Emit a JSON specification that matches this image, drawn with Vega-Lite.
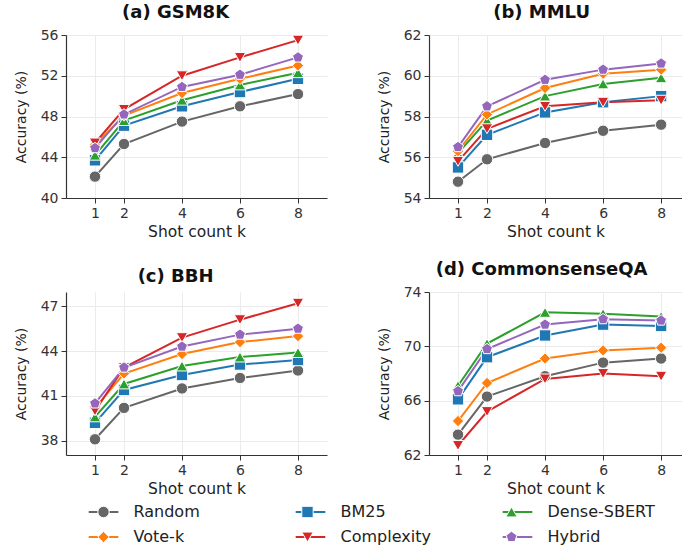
{
  "$schema": "https://vega.github.io/schema/vega-lite/v6.json",
  "padding": {"left": 14, "top": 4, "right": 0, "bottom": 0},
  "datasets": {
    "all": [
      {"d":"GSM8K","m":"Random","k":1,"v":42.1},{"d":"GSM8K","m":"Random","k":2,"v":45.3},{"d":"GSM8K","m":"Random","k":4,"v":47.5},{"d":"GSM8K","m":"Random","k":6,"v":49.0},{"d":"GSM8K","m":"Random","k":8,"v":50.2},
      {"d":"GSM8K","m":"BM25","k":1,"v":43.7},{"d":"GSM8K","m":"BM25","k":2,"v":47.1},{"d":"GSM8K","m":"BM25","k":4,"v":49.0},{"d":"GSM8K","m":"BM25","k":6,"v":50.4},{"d":"GSM8K","m":"BM25","k":8,"v":51.7},
      {"d":"GSM8K","m":"Dense-SBERT","k":1,"v":44.2},{"d":"GSM8K","m":"Dense-SBERT","k":2,"v":47.6},{"d":"GSM8K","m":"Dense-SBERT","k":4,"v":49.6},{"d":"GSM8K","m":"Dense-SBERT","k":6,"v":51.1},{"d":"GSM8K","m":"Dense-SBERT","k":8,"v":52.3},
      {"d":"GSM8K","m":"Vote-k","k":1,"v":45.2},{"d":"GSM8K","m":"Vote-k","k":2,"v":48.1},{"d":"GSM8K","m":"Vote-k","k":4,"v":50.3},{"d":"GSM8K","m":"Vote-k","k":6,"v":51.7},{"d":"GSM8K","m":"Vote-k","k":8,"v":53.0},
      {"d":"GSM8K","m":"Complexity","k":1,"v":45.4},{"d":"GSM8K","m":"Complexity","k":2,"v":48.7},{"d":"GSM8K","m":"Complexity","k":4,"v":52.0},{"d":"GSM8K","m":"Complexity","k":6,"v":53.8},{"d":"GSM8K","m":"Complexity","k":8,"v":55.5},
      {"d":"GSM8K","m":"Hybrid","k":1,"v":44.9},{"d":"GSM8K","m":"Hybrid","k":2,"v":48.2},{"d":"GSM8K","m":"Hybrid","k":4,"v":50.9},{"d":"GSM8K","m":"Hybrid","k":6,"v":52.1},{"d":"GSM8K","m":"Hybrid","k":8,"v":53.8},

      {"d":"MMLU","m":"Random","k":1,"v":54.8},{"d":"MMLU","m":"Random","k":2,"v":55.9},{"d":"MMLU","m":"Random","k":4,"v":56.7},{"d":"MMLU","m":"Random","k":6,"v":57.3},{"d":"MMLU","m":"Random","k":8,"v":57.6},
      {"d":"MMLU","m":"BM25","k":1,"v":55.5},{"d":"MMLU","m":"BM25","k":2,"v":57.1},{"d":"MMLU","m":"BM25","k":4,"v":58.2},{"d":"MMLU","m":"BM25","k":6,"v":58.7},{"d":"MMLU","m":"BM25","k":8,"v":59.0},
      {"d":"MMLU","m":"Dense-SBERT","k":1,"v":56.2},{"d":"MMLU","m":"Dense-SBERT","k":2,"v":57.8},{"d":"MMLU","m":"Dense-SBERT","k":4,"v":59.0},{"d":"MMLU","m":"Dense-SBERT","k":6,"v":59.6},{"d":"MMLU","m":"Dense-SBERT","k":8,"v":59.9},
      {"d":"MMLU","m":"Vote-k","k":1,"v":56.3},{"d":"MMLU","m":"Vote-k","k":2,"v":58.1},{"d":"MMLU","m":"Vote-k","k":4,"v":59.4},{"d":"MMLU","m":"Vote-k","k":6,"v":60.1},{"d":"MMLU","m":"Vote-k","k":8,"v":60.3},
      {"d":"MMLU","m":"Complexity","k":1,"v":55.8},{"d":"MMLU","m":"Complexity","k":2,"v":57.4},{"d":"MMLU","m":"Complexity","k":4,"v":58.5},{"d":"MMLU","m":"Complexity","k":6,"v":58.7},{"d":"MMLU","m":"Complexity","k":8,"v":58.8},
      {"d":"MMLU","m":"Hybrid","k":1,"v":56.5},{"d":"MMLU","m":"Hybrid","k":2,"v":58.5},{"d":"MMLU","m":"Hybrid","k":4,"v":59.8},{"d":"MMLU","m":"Hybrid","k":6,"v":60.3},{"d":"MMLU","m":"Hybrid","k":8,"v":60.6},

      {"d":"BBH","m":"Random","k":1,"v":38.1},{"d":"BBH","m":"Random","k":2,"v":40.2},{"d":"BBH","m":"Random","k":4,"v":41.5},{"d":"BBH","m":"Random","k":6,"v":42.2},{"d":"BBH","m":"Random","k":8,"v":42.7},
      {"d":"BBH","m":"BM25","k":1,"v":39.2},{"d":"BBH","m":"BM25","k":2,"v":41.4},{"d":"BBH","m":"BM25","k":4,"v":42.4},{"d":"BBH","m":"BM25","k":6,"v":43.1},{"d":"BBH","m":"BM25","k":8,"v":43.4},
      {"d":"BBH","m":"Dense-SBERT","k":1,"v":39.6},{"d":"BBH","m":"Dense-SBERT","k":2,"v":41.8},{"d":"BBH","m":"Dense-SBERT","k":4,"v":43.0},{"d":"BBH","m":"Dense-SBERT","k":6,"v":43.6},{"d":"BBH","m":"Dense-SBERT","k":8,"v":43.9},
      {"d":"BBH","m":"Vote-k","k":1,"v":40.2},{"d":"BBH","m":"Vote-k","k":2,"v":42.5},{"d":"BBH","m":"Vote-k","k":4,"v":43.8},{"d":"BBH","m":"Vote-k","k":6,"v":44.6},{"d":"BBH","m":"Vote-k","k":8,"v":45.0},
      {"d":"BBH","m":"Complexity","k":1,"v":40.0},{"d":"BBH","m":"Complexity","k":2,"v":42.9},{"d":"BBH","m":"Complexity","k":4,"v":44.9},{"d":"BBH","m":"Complexity","k":6,"v":46.1},{"d":"BBH","m":"Complexity","k":8,"v":47.2},
      {"d":"BBH","m":"Hybrid","k":1,"v":40.5},{"d":"BBH","m":"Hybrid","k":2,"v":42.9},{"d":"BBH","m":"Hybrid","k":4,"v":44.3},{"d":"BBH","m":"Hybrid","k":6,"v":45.1},{"d":"BBH","m":"Hybrid","k":8,"v":45.5},

      {"d":"CSQA","m":"Random","k":1,"v":63.5},{"d":"CSQA","m":"Random","k":2,"v":66.3},{"d":"CSQA","m":"Random","k":4,"v":67.8},{"d":"CSQA","m":"Random","k":6,"v":68.8},{"d":"CSQA","m":"Random","k":8,"v":69.1},
      {"d":"CSQA","m":"BM25","k":1,"v":66.1},{"d":"CSQA","m":"BM25","k":2,"v":69.2},{"d":"CSQA","m":"BM25","k":4,"v":70.8},{"d":"CSQA","m":"BM25","k":6,"v":71.6},{"d":"CSQA","m":"BM25","k":8,"v":71.5},
      {"d":"CSQA","m":"Dense-SBERT","k":1,"v":67.1},{"d":"CSQA","m":"Dense-SBERT","k":2,"v":70.2},{"d":"CSQA","m":"Dense-SBERT","k":4,"v":72.5},{"d":"CSQA","m":"Dense-SBERT","k":6,"v":72.4},{"d":"CSQA","m":"Dense-SBERT","k":8,"v":72.2},
      {"d":"CSQA","m":"Vote-k","k":1,"v":64.5},{"d":"CSQA","m":"Vote-k","k":2,"v":67.3},{"d":"CSQA","m":"Vote-k","k":4,"v":69.1},{"d":"CSQA","m":"Vote-k","k":6,"v":69.7},{"d":"CSQA","m":"Vote-k","k":8,"v":69.9},
      {"d":"CSQA","m":"Complexity","k":1,"v":62.7},{"d":"CSQA","m":"Complexity","k":2,"v":65.2},{"d":"CSQA","m":"Complexity","k":4,"v":67.6},{"d":"CSQA","m":"Complexity","k":6,"v":68.0},{"d":"CSQA","m":"Complexity","k":8,"v":67.8},
      {"d":"CSQA","m":"Hybrid","k":1,"v":66.7},{"d":"CSQA","m":"Hybrid","k":2,"v":69.8},{"d":"CSQA","m":"Hybrid","k":4,"v":71.6},{"d":"CSQA","m":"Hybrid","k":6,"v":72.0},{"d":"CSQA","m":"Hybrid","k":8,"v":71.9}
    ]
  },
  "data": {"name": "all"},
  "vconcat": [
    {
      "hconcat": [
        {
          "title": {"text": "(a) GSM8K", "dx": 5},
          "width": 261, "height": 163,
          "transform": [{"filter": "datum.d === 'GSM8K'"}],
          "encoding": {
            "x": {"field": "k", "type": "quantitative", "scale": {"domain": [0, 9], "nice": false, "zero": false}, "axis": {"values": [1, 2, 4, 6, 8], "title": "Shot count k"}},
            "y": {"field": "v", "type": "quantitative", "scale": {"domain": [40, 56], "nice": false, "zero": false}, "axis": {"values": [40, 44, 48, 52, 56], "title": "Accuracy (%)"}}
          },
          "layer": [
            {"mark": {"type": "line", "strokeWidth": 2},
             "encoding": {"stroke": {"field": "m", "type": "nominal",
               "scale": {"domain": ["Hybrid", "Complexity", "Vote-k", "Dense-SBERT", "BM25", "Random"], "range": ["#9467bd", "#d62728", "#ff7f0e", "#2ca02c", "#1f77b4", "#666666"]},
               "legend": {"orient": "none", "direction": "horizontal", "legendX": 21, "legendY": 469, "columns": 3, "gridAlign": "all", "columnPadding": 50, "rowPadding": 9, "title": null, "values": ["Random", "BM25", "Dense-SBERT", "Vote-k", "Complexity", "Hybrid"], "symbolType": "M-2.6,0H2.6", "symbolSize": 130, "symbolStrokeWidth": 2, "symbolOffset": 8.5, "labelOffset": 22, "labelFontSize": 16, "labelColor": "#222", "labelFont": "DejaVu Sans"}}}},
            {"mark": {"type": "point", "filled": true, "size": 130, "stroke": "white", "strokeWidth": 1, "opacity": 1},
             "encoding": {
               "color": {"field": "m", "type": "nominal",
                 "scale": {"domain": ["Random", "BM25", "Dense-SBERT", "Vote-k", "Complexity", "Hybrid"], "range": ["#666666", "#1f77b4", "#2ca02c", "#ff7f0e", "#d62728", "#9467bd"]},
                 "legend": {"orient": "none", "direction": "horizontal", "legendX": 21, "legendY": 469, "columns": 3, "gridAlign": "all", "columnPadding": 50, "rowPadding": 9, "title": null, "symbolSize": 130, "symbolStrokeWidth": 1, "symbolStrokeColor": "white", "symbolOffset": 8.5, "labelOffset": 22, "labelFontSize": 16, "labelOpacity": 0, "labelFont": "DejaVu Sans", "zindex": 2}},
               "shape": {"field": "m", "type": "nominal",
                 "scale": {"domain": ["Random", "BM25", "Dense-SBERT", "Vote-k", "Complexity", "Hybrid"], "range": ["circle", "square", "triangle-up", "diamond", "triangle-down", "M0,-1L0.951,-0.309L0.588,0.809L-0.588,0.809L-0.951,-0.309Z"]},
                 "legend": {"orient": "none", "direction": "horizontal", "legendX": 21, "legendY": 469, "columns": 3, "gridAlign": "all", "columnPadding": 50, "rowPadding": 9, "title": null, "symbolSize": 130, "symbolStrokeWidth": 1, "symbolStrokeColor": "white", "symbolOffset": 8.5, "labelOffset": 22, "labelFontSize": 16, "labelOpacity": 0, "labelFont": "DejaVu Sans", "zindex": 2}}
             }}
          ]
        },
        {
          "title": {"text": "(b) MMLU", "dx": 12},
          "width": 253, "height": 163,
          "transform": [{"filter": "datum.d === 'MMLU'"}],
          "encoding": {
            "x": {"field": "k", "type": "quantitative", "scale": {"domain": [0, 8.72], "nice": false, "zero": false}, "axis": {"values": [1, 2, 4, 6, 8], "title": "Shot count k"}},
            "y": {"field": "v", "type": "quantitative", "scale": {"domain": [54, 62], "nice": false, "zero": false}, "axis": {"values": [54, 56, 58, 60, 62], "title": "Accuracy (%)"}}
          },
          "layer": [
            {"mark": {"type": "line", "strokeWidth": 2}, "encoding": {"stroke": {"field": "m", "type": "nominal"}}},
            {"mark": {"type": "point", "filled": true, "size": 130, "stroke": "white", "strokeWidth": 1, "opacity": 1},
             "encoding": {"color": {"field": "m", "type": "nominal"}, "shape": {"field": "m", "type": "nominal"}}}
          ]
        }
      ]
    },
    {
      "hconcat": [
        {
          "title": {"text": "(c) BBH", "dx": 5},
          "width": 261, "height": 163,
          "transform": [{"filter": "datum.d === 'BBH'"}],
          "encoding": {
            "x": {"field": "k", "type": "quantitative", "scale": {"domain": [0, 9], "nice": false, "zero": false}, "axis": {"values": [1, 2, 4, 6, 8], "title": "Shot count k"}},
            "y": {"field": "v", "type": "quantitative", "scale": {"domain": [37.05, 47.95], "nice": false, "zero": false}, "axis": {"values": [38, 41, 44, 47], "title": "Accuracy (%)"}}
          },
          "layer": [
            {"mark": {"type": "line", "strokeWidth": 2}, "encoding": {"stroke": {"field": "m", "type": "nominal"}}},
            {"mark": {"type": "point", "filled": true, "size": 130, "stroke": "white", "strokeWidth": 1, "opacity": 1},
             "encoding": {"color": {"field": "m", "type": "nominal"}, "shape": {"field": "m", "type": "nominal"}}}
          ]
        },
        {
          "title": {"text": "(d) CommonsenseQA", "dx": 12},
          "width": 253, "height": 163,
          "transform": [{"filter": "datum.d === 'CSQA'"}],
          "encoding": {
            "x": {"field": "k", "type": "quantitative", "scale": {"domain": [0, 8.72], "nice": false, "zero": false}, "axis": {"values": [1, 2, 4, 6, 8], "title": "Shot count k"}},
            "y": {"field": "v", "type": "quantitative", "scale": {"domain": [62, 74], "nice": false, "zero": false}, "axis": {"values": [62, 66, 70, 74], "title": "Accuracy (%)"}}
          },
          "layer": [
            {"mark": {"type": "line", "strokeWidth": 2}, "encoding": {"stroke": {"field": "m", "type": "nominal"}}},
            {"mark": {"type": "point", "filled": true, "size": 130, "stroke": "white", "strokeWidth": 1, "opacity": 1},
             "encoding": {"color": {"field": "m", "type": "nominal"}, "shape": {"field": "m", "type": "nominal"}}}
          ]
        }
      ]
    }
  ],
  "spacing": 21,
  "config": {
    "font": "DejaVu Sans",
    "concat": {"spacing": 50},
    "view": {"stroke": null},
    "axis": {"domainColor": "#333333", "domainWidth": 1.2, "tickColor": "#333333", "tickSize": 5, "labelFontSize": 14, "labelColor": "#333333", "labelFont": "DejaVu Sans", "titleFont": "DejaVu Sans", "titleFontWeight": "normal", "titleColor": "#222222", "gridColor": "#ebebeb", "gridWidth": 1, "labelPadding": 3},
    "axisY": {"titlePadding": 12, "titleFontSize": 14},
    "axisX": {"titlePadding": 4, "titleFontSize": 15.5},
    "title": {"fontSize": 18, "fontWeight": "bold", "font": "DejaVu Sans", "frame": "bounds", "anchor": "middle", "color": "#111111", "offset": 6}
  }
}
